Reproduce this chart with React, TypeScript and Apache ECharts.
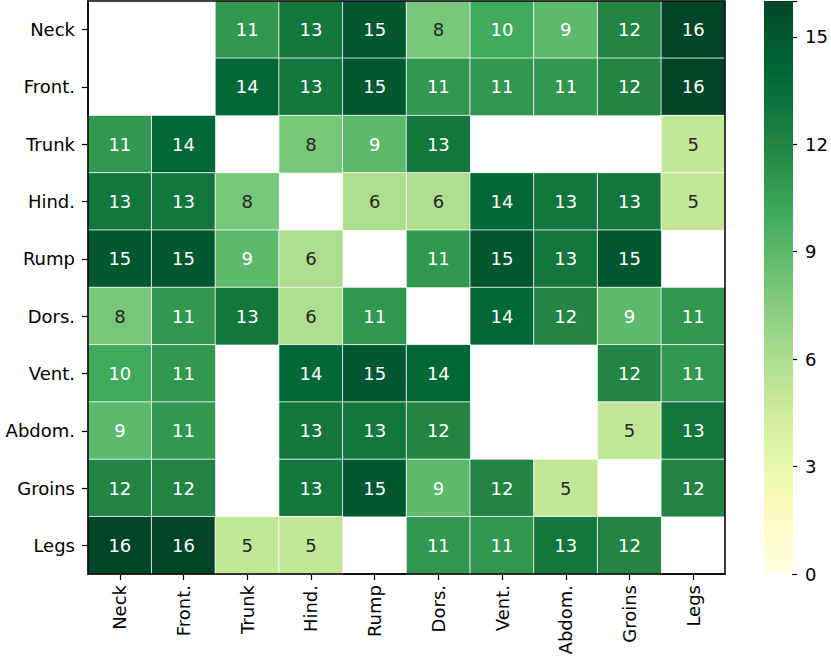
import React, { useEffect, useRef } from "react";
import * as echarts from "echarts";

const categories = ["Neck", "Front.", "Trunk", "Hind.", "Rump", "Dors.", "Vent.", "Abdom.", "Groins", "Legs"];

// rows (y) by columns (x); null = empty cell
const matrix: (number | null)[][] = [
  [null, null, 11, 13, 15, 8, 10, 9, 12, 16],
  [null, null, 14, 13, 15, 11, 11, 11, 12, 16],
  [11, 14, null, 8, 9, 13, null, null, null, 5],
  [13, 13, 8, null, 6, 6, 14, 13, 13, 5],
  [15, 15, 9, 6, null, 11, 15, 13, 15, null],
  [8, 11, 13, 6, 11, null, 14, 12, 9, 11],
  [10, 11, null, 14, 15, 14, null, null, 12, 11],
  [9, 11, null, 13, 13, 12, null, null, 5, 13],
  [12, 12, null, 13, 15, 9, 12, 5, null, 12],
  [16, 16, 5, 5, null, 11, 11, 13, 12, null],
];

const colorbarTicks = [0, 3, 6, 9, 12, 15];
const colorMin = 0;
const colorMax = 16;
const ylgn = ["#ffffe5", "#f7fcb9", "#d9f0a3", "#addd8e", "#78c679", "#41ab5d", "#238443", "#006837", "#004529"];

const FONT = "DejaVu Sans";

export default function App() {
  const ref = useRef<HTMLDivElement>(null);
  useEffect(() => {
    if (!ref.current) return;
    const chart = echarts.init(ref.current, null, { renderer: "svg" });
    const data: any[] = [];
    matrix.forEach((row, y) => {
      row.forEach((v, x) => {
        if (v !== null) {
          data.push({
            value: [x, y, v],
            label: { color: v >= 9 ? "#ffffff" : "#262626" },
          });
        }
      });
    });
    const L = 88, T = 1, R = 106, B = 88;
    const CBX = 764, CBW = 29;
    const H = 662 - T - B;
    const stops = ylgn
      .map((c, i) => ({ offset: 1 - i / (ylgn.length - 1), color: c }))
      .reverse();
    chart.setOption({
      animation: false,
      textStyle: { fontFamily: FONT },
      grid: [
        { left: L, top: T, right: R, bottom: B, show: false },
        { left: CBX, top: T, width: CBW, bottom: B, show: false },
      ],
      xAxis: [
        {
          type: "category",
          data: categories,
          gridIndex: 0,
          axisLine: { show: true, lineStyle: { color: "#000", width: 1.5 } },
          axisTick: { show: true, alignWithLabel: true, length: 6, lineStyle: { color: "#000", width: 1.2 } },
          axisLabel: { rotate: 90, fontSize: 18, color: "#000", margin: 11, fontFamily: FONT },
          splitLine: { show: false },
        },
        {
          type: "value",
          gridIndex: 1,
          show: false,
          min: 0,
          max: 1,
        },
      ],
      yAxis: [
        {
          type: "category",
          data: categories,
          inverse: true,
          gridIndex: 0,
          axisLine: { show: true, lineStyle: { color: "#000", width: 1.5 } },
          axisTick: { show: true, alignWithLabel: true, length: 6, lineStyle: { color: "#000", width: 1.2 } },
          axisLabel: { fontSize: 18, color: "#000", margin: 13, fontFamily: FONT },
          splitLine: { show: false },
        },
        {
          type: "value",
          gridIndex: 1,
          position: "right",
          min: colorMin,
          max: colorMax,
          interval: 3,
          axisLine: { show: false, onZero: false },
          axisTick: { show: true, length: 5, lineStyle: { color: "#000", width: 1.2 } },
          axisLabel: {
            fontSize: 18,
            color: "#000",
            margin: 13,
            fontFamily: FONT,
            formatter: (v: number) => (colorbarTicks.includes(v) ? String(v) : ""),
          },
          splitLine: { show: false },
        },
      ],
      visualMap: {
        type: "continuous",
        min: colorMin,
        max: colorMax,
        seriesIndex: 0,
        show: false,
        inRange: { color: ylgn },
      },
      graphic: [
        {
          type: "rect",
          z: 1,
          silent: true,
          shape: { x: CBX, y: T, width: CBW, height: H },
          style: {
            fill: new echarts.graphic.LinearGradient(0, 0, 0, 1, stops),
            stroke: "none",
          },
        },
        {
          type: "rect",
          z: 100,
          silent: true,
          shape: { x: L, y: T, width: 831 - L - R, height: H },
          style: { fill: "none", stroke: "#000", lineWidth: 1.5 },
        },
      ],
      series: [
        {
          type: "heatmap",
          xAxisIndex: 0,
          yAxisIndex: 0,
          data,
          itemStyle: { borderColor: "#ffffff", borderWidth: 0.8 },
          label: { show: true, fontSize: 18, fontFamily: FONT },
          emphasis: { disabled: true },
        },
      ],
    });
    return () => chart.dispose();
  }, []);
  return <div ref={ref} style={{ width: 831, height: 662, position: "absolute", left: 0, top: 0 }} />;
}
